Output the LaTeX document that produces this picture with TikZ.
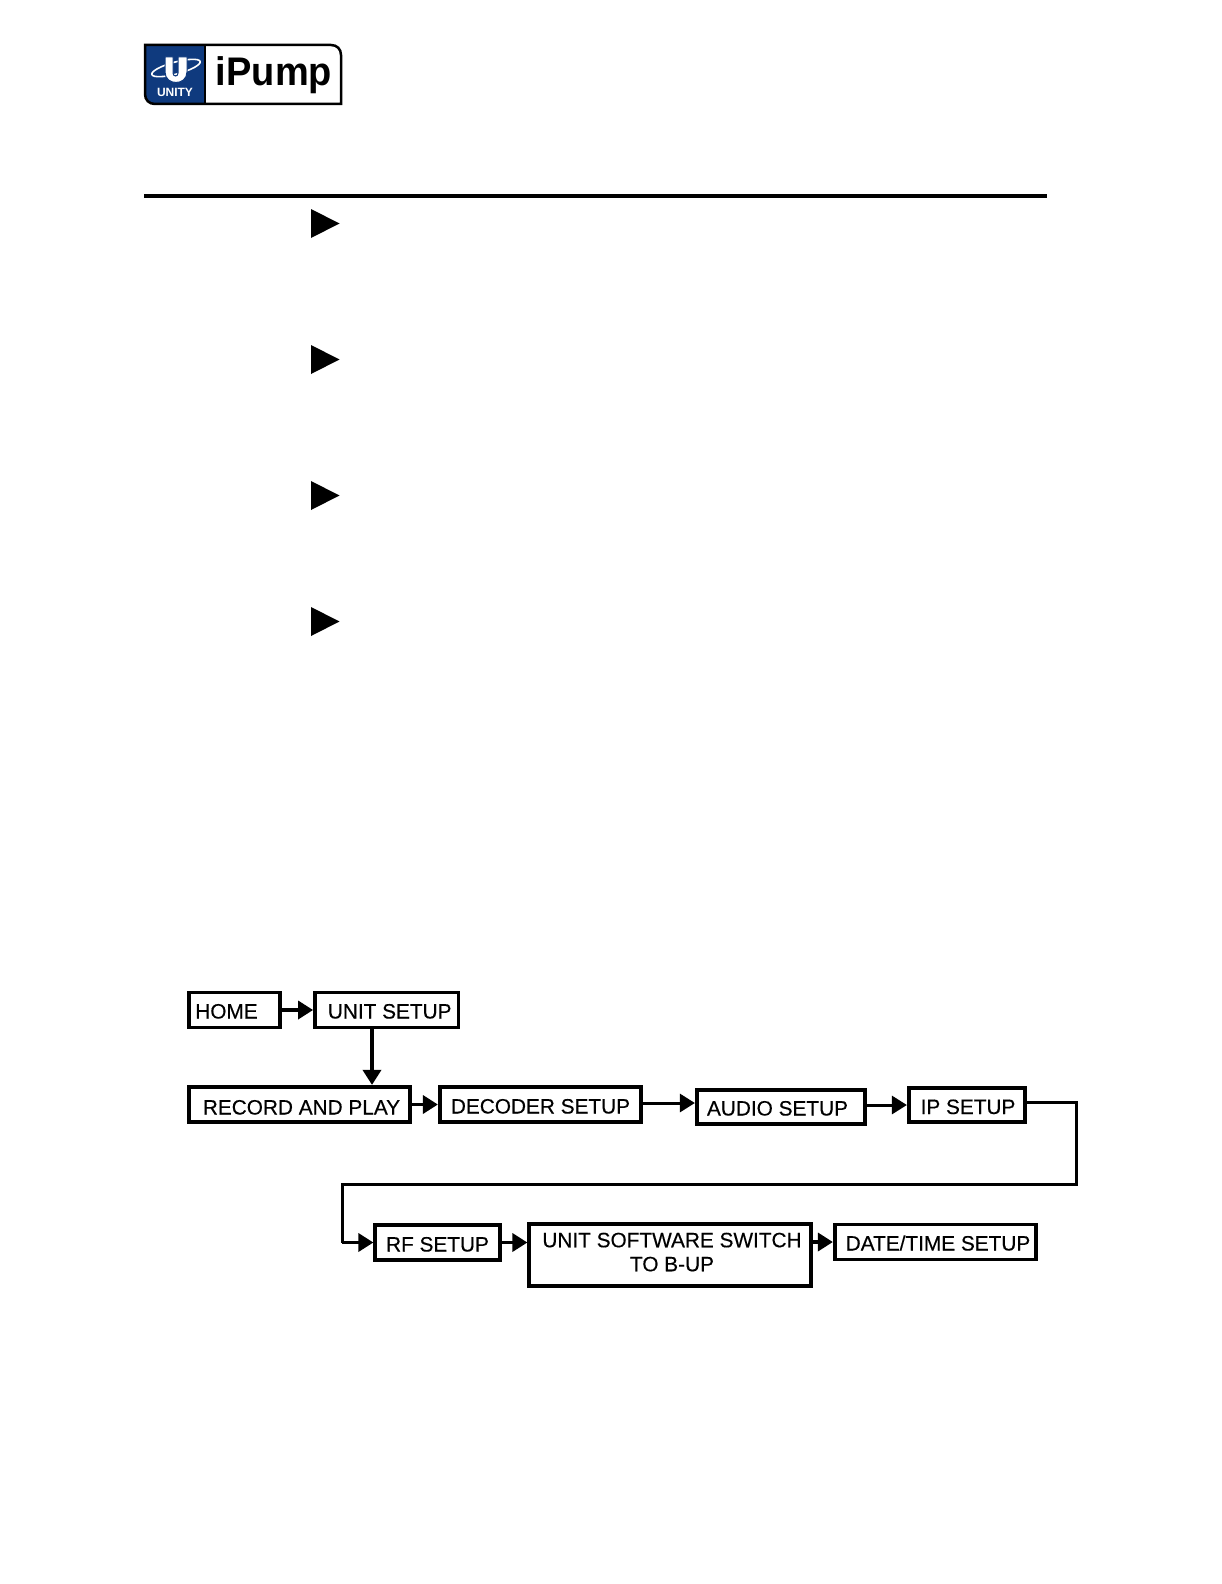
\documentclass[tikz,border=0pt]{standalone}
\usepackage{fontspec}
\setmainfont{Liberation Sans}
\newfontfamily\boxfont[FakeBold=0.35]{Liberation Sans}
\usepackage{tikz}
\usetikzlibrary{arrows.meta,calc,positioning}
\definecolor{unityblue}{HTML}{0F3A7E}
\tikzset{
  menubox/.style={draw=black,line width=3.7pt,fill=white,font=\boxfont\fontsize{20.8}{21}\selectfont,inner sep=0pt,text depth=0pt,text height=17pt,align=center},
  flow/.style={-{Triangle[length=15pt,width=18pt]},line width=3.5pt},
}
\begin{document}
\begin{tikzpicture}[x=1pt,y=-1pt]
\useasboundingbox (0,0) rectangle (1222,1584);
% logo
\fill[unityblue] (145,45) -- (205,45) -- (205,104) -- (155,104) .. controls (149,104) and (145,100) .. (145,94) -- cycle;
\draw[line width=2.5pt] (145,45) -- (331,45) .. controls (337,45) and (341,49) .. (341,55) -- (341,104) -- (155,104) .. controls (149,104) and (145,100) .. (145,94) -- cycle;
\draw[line width=2.5pt] (205,45) -- (205,104);
\draw[white,line width=1.6pt,rotate around={15:(176,68)}] (176,68) ellipse [x radius=25pt,y radius=6pt];
\filldraw[fill=white,draw=unityblue,line width=1pt] (165,57) -- (173,57) -- (173,73) .. controls (173,77) and (178,77) .. (178,73) -- (178,57) -- (187,57) -- (187,72) .. controls (187,86) and (165,86) .. (165,72) -- cycle;
\node[white,font=\bfseries\fontsize{12}{12}\selectfont] (unity) at (175,92) {UNITY};
\node[font=\bfseries\fontsize{38}{38}\selectfont,yscale=1.05] (ipump) at (274,75) {iPump};
% rule and bullets
\draw[line width=4pt] (144,196) -- (1047,196);
\fill (311,209) -- (339.5,223.5) -- (311,238) -- cycle;
\fill (311,345) -- (339.5,359.5) -- (311,374) -- cycle;
\fill (311,481) -- (339.5,495.5) -- (311,510) -- cycle;
\fill (311,607) -- (339.5,621.5) -- (311,636) -- cycle;
% menu flow
\node[menubox,minimum width=91pt,minimum height=35pt] (home) at (234.5,1010) {HOME\hspace*{16pt}};
\node[menubox,minimum width=143.5pt,minimum height=35pt] (unit) at (386.7,1010) {\hspace*{6pt}UNIT SETUP};
\node[menubox,minimum width=221.5pt,minimum height=35.5pt,text height=20pt] (record) at (299.5,1104.5) {\hspace*{4pt}RECORD AND PLAY};
\node[menubox,minimum width=201.5pt,minimum height=35.5pt,text height=18pt] (decoder) at (540.5,1104.5) {DECODER SETUP};
\node[menubox,minimum width=168.5pt,minimum height=34.5pt] (audio) at (781,1107) {AUDIO SETUP\hspace*{7pt}};
\node[menubox,minimum width=116.5pt,minimum height=34.5pt,text height=18pt] (ip) at (967,1105) {\hspace*{2pt}IP SETUP};
\node[menubox,minimum width=124.5pt,minimum height=35.5pt,text height=18pt] (rf) at (437.5,1242.5) {RF SETUP};
\node[menubox,minimum width=281.5pt,minimum height=62.5pt,text height=,text depth=] (switch) at (670,1255) {\hspace*{4pt}UNIT SOFTWARE SWITCH\\[3pt]\hspace*{4pt}TO B-UP\rule[-6pt]{0pt}{0pt}};
\node[menubox,minimum width=201.5pt,minimum height=35pt] (date) at (935.5,1242) {\hspace*{5pt}DATE/TIME SETUP};
\coordinate (drop) at (372,1060);
\coordinate (right) at (1076,1102);
\coordinate (left) at (342,1184);
\draw[flow] (home) -- (unit);
\draw[flow] (drop |- unit.south) -- (drop |- record.north);
\draw[flow] (record) -- (decoder);
\draw[flow,line width=3pt] (decoder.east |- 0,1103) -- (audio.west |- 0,1103);
\draw[flow,line width=3pt] (audio.east |- ip.east) -- (ip.west);
\draw[line width=3pt] (ip.east |- right) -- (right) |- (left) -- (left |- rf.west);
\draw[flow] (left |- rf.west) -- (rf.west);
\draw[flow] (rf.east) -- (switch.west |- rf.east);
\draw[flow] (switch.east |- date.west) -- (date.west);
\end{tikzpicture}
\end{document}
